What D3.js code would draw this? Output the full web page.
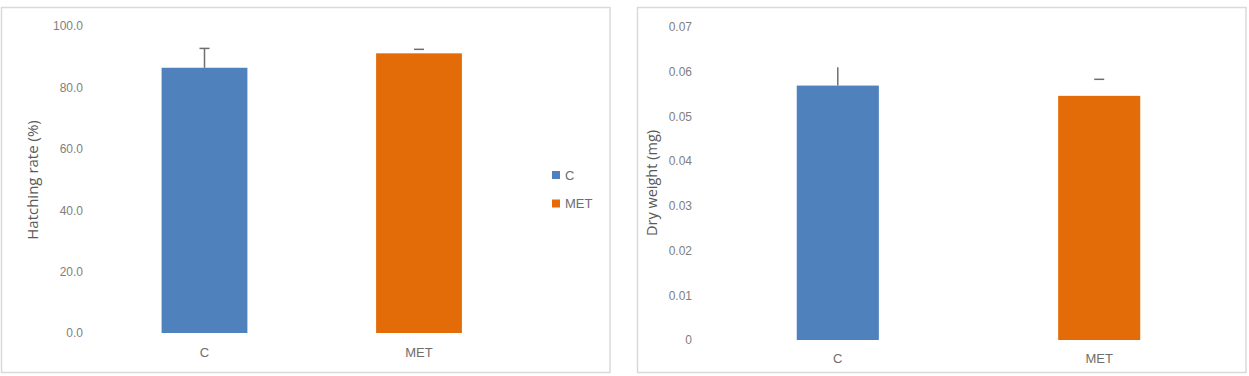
<!DOCTYPE html>
<html>
<head>
<meta charset="utf-8">
<script src="https://cdn.jsdelivr.net/npm/d3@7"></script>
<style>
  body { margin: 0; background: #fff; }
  svg { display: block; }
  text { font-family: "Liberation Sans Narrow", "Liberation Sans", Arial, sans-serif; }
</style>
</head>
<body>
<svg id="chart" width="1249" height="376"></svg>
<script>
// ---- data ----
const categories = ["C", "MET"];
const hatchingValues = [86.4, 91.1];
const hatchingErrors = [6.3, 1.3];
const hatchingTicks = [0, 20, 40, 60, 80, 100];
const dryWeightValues = [0.0569, 0.0546];
const dryWeightErrors = [0.0041, 0.0037];
const dryWeightTicks = [0, 0.01, 0.02, 0.03, 0.04, 0.05, 0.06, 0.07];
const legendLabels = ["C", "MET"];

// ---- style ----
const colors = ["#4f81bd", "#e36c09"];
const svg = d3.select("#chart");

function panel(cfg) {
  const g = svg.append("g");
  g.append("rect").attr("x", cfg.box[0]).attr("y", cfg.box[1])
    .attr("width", cfg.box[2]).attr("height", cfg.box[3])
    .attr("fill", "#fff").attr("stroke", "#d9d9d9").attr("stroke-width", 1.5);

  const y = d3.scaleLinear().domain(cfg.domain).range(cfg.yRange);
  const x = d3.scaleBand().domain(categories).range(cfg.xRange)
    .paddingInner(cfg.padIn).paddingOuter(cfg.padIn / 2);

  const yAxis = d3.axisLeft(y).tickValues(cfg.ticks).tickFormat(cfg.fmt).tickSize(0).tickPadding(0);
  const ya = g.append("g").attr("transform", `translate(${cfg.tickX},0)`).call(yAxis);
  ya.select(".domain").remove();
  ya.selectAll("text").attr("fill", "#808080").attr("font-size", 12)
    .style("font-family", '"Liberation Sans Narrow", "Liberation Sans", Arial, sans-serif');

  g.selectAll(".bar").data(cfg.values).enter().append("rect")
    .attr("x", (d, i) => x(categories[i]))
    .attr("y", d => y(d))
    .attr("width", x.bandwidth())
    .attr("height", d => y(0) - y(d))
    .attr("fill", (d, i) => colors[i]);

  cfg.values.forEach((v, i) => {
    const cx = x(categories[i]) + x.bandwidth() / 2;
    const top = y(v + cfg.errors[i]);
    if (cfg.stem[i]) {
      g.append("line").attr("x1", cx).attr("x2", cx).attr("y1", y(v)).attr("y2", top)
        .attr("stroke", "#6e6e6e").attr("stroke-width", 1.5);
    }
    if (cfg.cap[i]) {
      g.append("line").attr("x1", cx - 5).attr("x2", cx + 5).attr("y1", top).attr("y2", top)
        .attr("stroke", "#6e6e6e").attr("stroke-width", 1.5);
    }
  });

  const xAxis = d3.axisBottom(x).tickSize(0).tickPadding(0);
  const xa = g.append("g").attr("transform", `translate(0,${cfg.xLabelY})`).call(xAxis);
  xa.select(".domain").remove();
  xa.selectAll("text").attr("fill", "#6e6e6e").attr("font-size", 13)
    .style("font-family", '"Liberation Sans Narrow", "Liberation Sans", Arial, sans-serif');

  g.append("text")
    .attr("transform", `translate(${cfg.titleX},${cfg.titleY}) rotate(-90)`)
    .attr("text-anchor", "middle").attr("dy", "0.35em")
    .attr("fill", "#595959").attr("font-size", cfg.titleSize)
    .style("font-family", '"Open Sans", "Liberation Sans", Arial, sans-serif')
    .text(cfg.title);
  return { g, x, y };
}

panel({
  box: [1.5, 7.5, 608.5, 365],
  domain: [0, 100], yRange: [333, 26],
  xRange: [97.25, 526.25], padIn: 0.6,
  ticks: hatchingTicks, fmt: d3.format(".1f"), tickX: 83,
  values: hatchingValues, errors: hatchingErrors,
  stem: [true, false], cap: [true, true],
  xLabelY: 348, titleX: 33, titleY: 180, title: "Hatching rate (%)", titleSize: 15
});

const lg = svg.append("g");
legendLabels.forEach((lab, i) => {
  const ly = 175 + i * 28.5;
  lg.append("rect").attr("x", 552).attr("y", ly - 4).attr("width", 8).attr("height", 8).attr("fill", colors[i]);
  lg.append("text").attr("x", 565).attr("y", ly).attr("dy", "0.35em")
    .attr("fill", "#6e6e6e").attr("font-size", 13).text(lab);
});

panel({
  box: [637.5, 7.5, 608.5, 365],
  domain: [0, 0.07], yRange: [340, 27],
  xRange: [707.1, 1229.9], padIn: 0.686,
  ticks: dryWeightTicks, fmt: d => d === 0 ? "0" : d3.format(".2f")(d), tickX: 692,
  values: dryWeightValues, errors: dryWeightErrors,
  stem: [true, false], cap: [false, true],
  xLabelY: 354, titleX: 652, titleY: 183, title: "Dry weight (mg)", titleSize: 14.5
});
</script>
</body>
</html>
